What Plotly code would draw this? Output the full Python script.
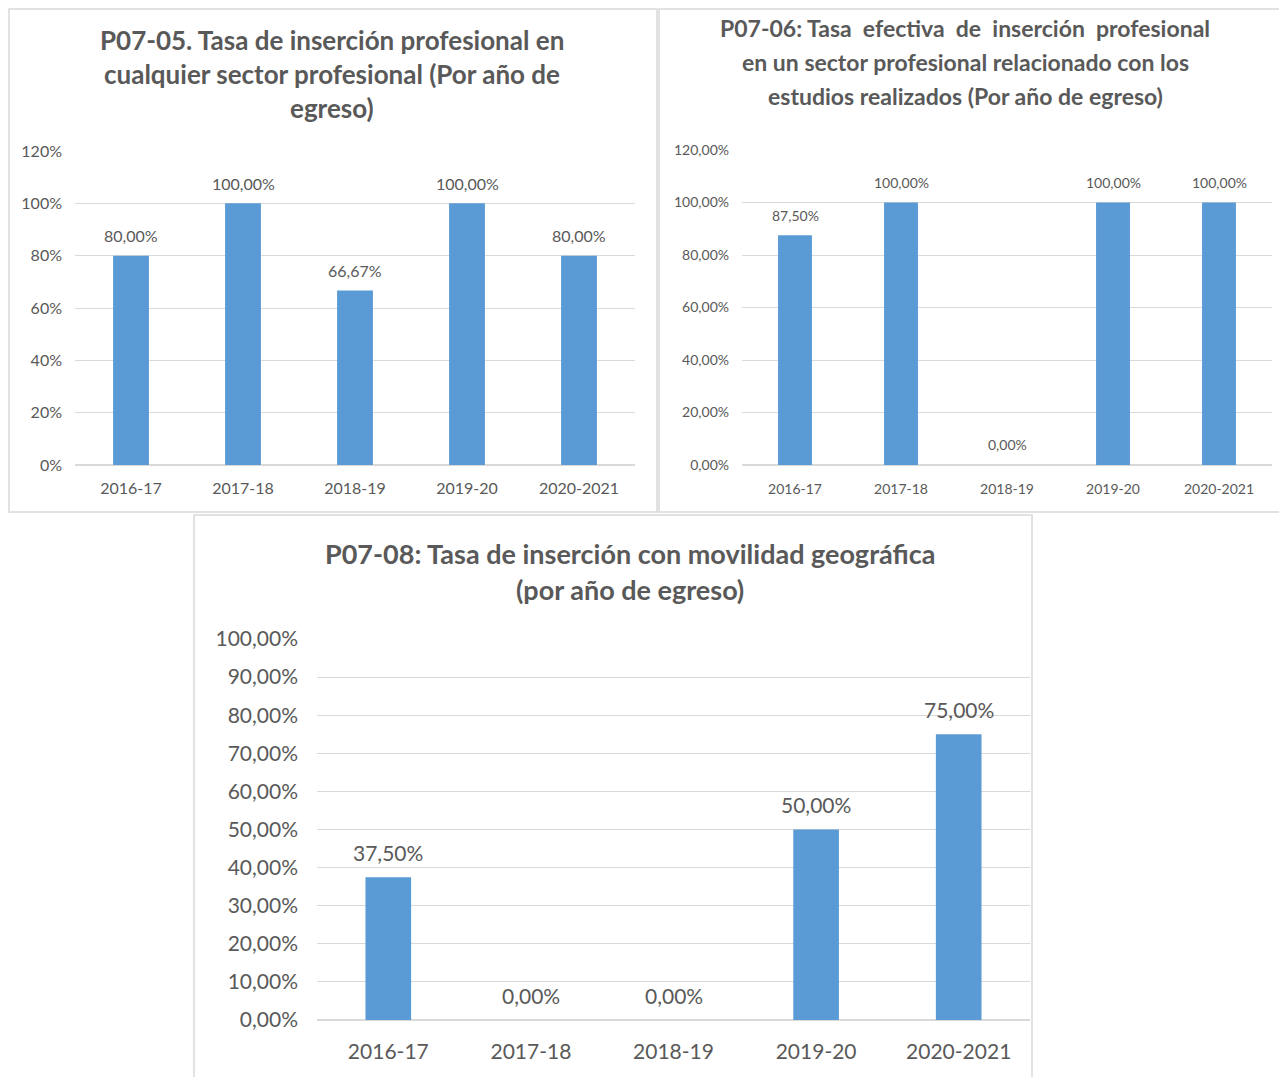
import plotly.graph_objects as go

years = ['2016-17', '2017-18', '2018-19', '2019-20', '2020-2021']

p0705_values = [80.00, 100.00, 66.67, 100.00, 80.00]
p0706_values = [87.50, 100.00, 0.00, 100.00, 100.00]
p0708_values = [37.50, 0.00, 0.00, 50.00, 75.00]

p0705_title = ['P07-05. Tasa de inserción profesional en',
               'cualquier sector profesional (Por año de',
               'egreso)']
p0706_title = ['P07-06: Tasa  efectiva  de  inserción  profesional',
               'en un sector profesional relacionado con los',
               'estudios realizados (Por año de egreso)']
p0708_title = ['P07-08: Tasa de inserción con movilidad geográfica',
               '(por año de egreso)']

W, H = 1287, 1077
OFFSET = 8  # page body margin
bar_colour = '#5B9BD5'
text_colour = '#595959'
grid_colour = '#D9D9D9'
font_family = 'Lato'


def px_x(x):
    return (x - OFFSET) / W


def px_y(y):
    return 1 - (y - OFFSET) / H


def pct_label(v):
    return f'{v:.2f}'.replace('.', ',') + '%'


panels = [
    dict(values=p0705_values, ax='', xr=(75, 635), yr=(151, 465), ymax=120, dtick=20,
         tickformat='.0f', fs=16, title=p0705_title, title_y=[40, 74, 108], title_x=332, tfs=26,
         box=(9, 9, 657, 512), standoff_x=12, standoff_y=12, lab_shift=20),
    dict(values=p0706_values, ax='2', xr=(742, 1272), yr=(150, 465), ymax=120, dtick=20,
         tickformat='.2f', fs=14, title=p0706_title, title_y=[28, 62, 96], title_x=965, tfs=23,
         box=(659, 9, 1290, 512), standoff_x=14, standoff_y=12, lab_shift=20),
    dict(values=p0708_values, ax='3', xr=(317, 1030), yr=(639, 1020), ymax=100, dtick=10,
         tickformat='.2f', fs=21, title=p0708_title, title_y=[553, 589], title_x=630, tfs=27,
         box=(194, 515, 1032, 1090), standoff_x=17, standoff_y=18, lab_shift=25),
]

fig = go.Figure()
layout = dict(
    width=W, height=H,
    margin=dict(l=0, r=0, t=0, b=0, pad=0, autoexpand=False),
    paper_bgcolor='white', plot_bgcolor='white',
    separators=',.',
    showlegend=False,
    font=dict(family=font_family, color=text_colour),
)
annotations = []
shapes = []

for p in panels:
    xa = 'x' + p['ax']
    ya = 'y' + p['ax']
    fig.add_trace(go.Bar(
        x=years, y=p['values'], xaxis=xa, yaxis=ya,
        marker=dict(color=bar_colour, line=dict(width=0)),
        width=0.32, hoverinfo='x+y',
    ))
    # value labels above the bars
    for cat, v in zip(years, p['values']):
        annotations.append(dict(
            text=pct_label(v), xref=xa, yref=ya, x=cat, y=v,
            xanchor='center', yanchor='middle', yshift=p['lab_shift'], showarrow=False,
            font=dict(size=p['fs'], color=text_colour, family=font_family),
        ))
    key = p['ax']
    layout['xaxis' + key] = dict(
        domain=[px_x(p['xr'][0]), px_x(p['xr'][1])], anchor=ya,
        showgrid=False, showline=False, zeroline=False, ticks='', automargin=False,
        tickfont=dict(size=p['fs'], color=text_colour), ticklabelstandoff=p['standoff_x'],
        fixedrange=True,
    )
    layout['yaxis' + key] = dict(
        domain=[px_y(p['yr'][1]), px_y(p['yr'][0])], anchor=xa,
        range=[0, p['ymax']], dtick=p['dtick'], tickformat=p['tickformat'], ticksuffix='%',
        showgrid=True, gridcolor=grid_colour, gridwidth=1,
        zeroline=True, zerolinecolor=grid_colour, zerolinewidth=1.5,
        showline=False, ticks='', automargin=False,
        tickfont=dict(size=p['fs'], color=text_colour), ticklabelstandoff=p['standoff_y'],
        fixedrange=True,
    )
    for line, ty in zip(p['title'], p['title_y']):
        annotations.append(dict(
            text='<b>' + line + '</b>', xref='paper', yref='paper',
            x=px_x(p['title_x']), y=px_y(ty), xanchor='center', yanchor='middle',
            showarrow=False, font=dict(size=p['tfs'], color=text_colour, family=font_family),
        ))
    x0, y0, x1, y1 = p['box']
    shapes.append(dict(type='rect', xref='paper', yref='paper',
                       x0=px_x(x0), x1=px_x(x1), y0=px_y(y1), y1=px_y(y0),
                       line=dict(color=grid_colour, width=1.5), layer='below'))

layout['annotations'] = annotations
layout['shapes'] = shapes
fig.update_layout(**layout)

fig.write_html("out.html")
